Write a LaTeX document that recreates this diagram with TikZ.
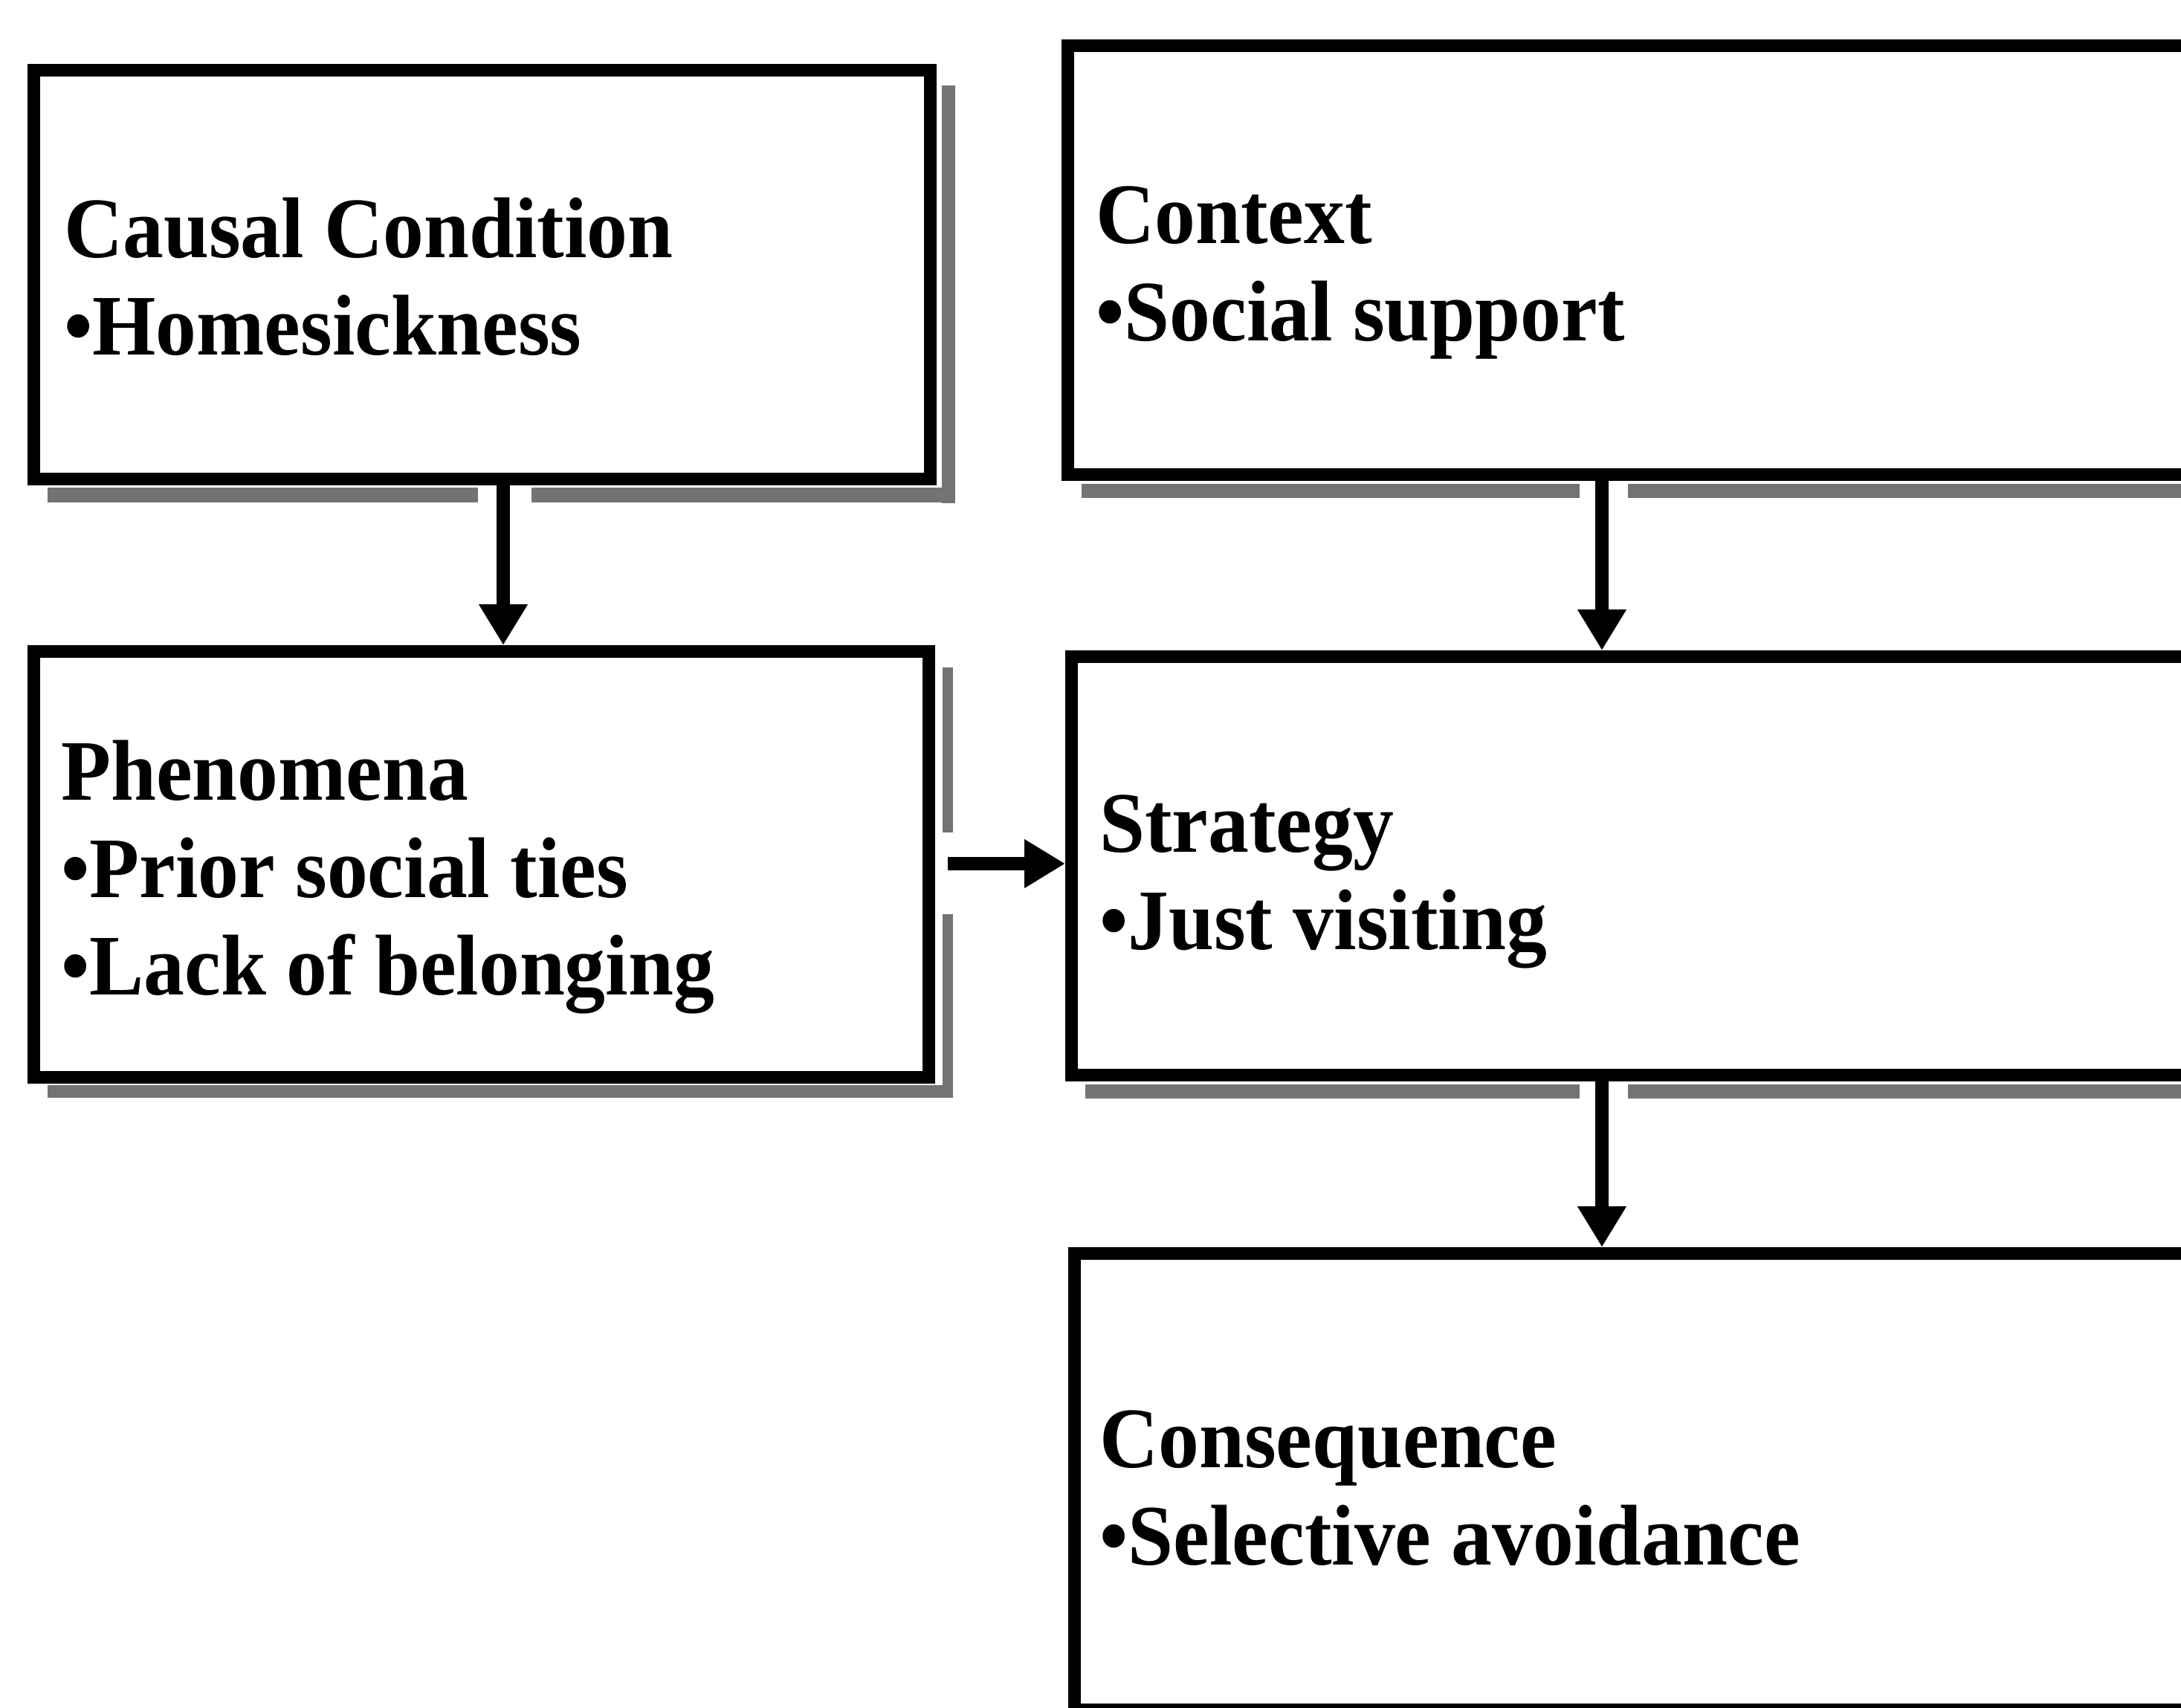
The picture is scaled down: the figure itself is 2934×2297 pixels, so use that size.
\documentclass[tikz,border=0pt]{standalone}
\usepackage{fontspec}
\setmainfont{Liberation Serif}[FakeStretch=0.945]
\usetikzlibrary{arrows.meta,calc}

\tikzset{
  box/.style={draw=black, line width=17pt, rectangle, inner sep=0pt, fill=none},
  label/.style={anchor=base west, inner sep=0pt,
    font=\fontsize{116}{131}\selectfont\bfseries},
  flow/.style={line width=18pt, -{Triangle[width=62pt,length=55pt]}},
  shade/.style={fill=black!55}
}

\begin{document}
\begin{tikzpicture}[x=1pt,y=-1pt]
\useasboundingbox (0,0) rectangle (2934,2297);
\clip (0,0) rectangle (2934,2297);

% drop shadows behind the boxes
\fill[shade] (1267,115) rectangle (1285,677);
\fill[shade] (64,656) rectangle (643,676);
\fill[shade] (715,656) rectangle (1285,676);
\fill[shade] (1455,651) rectangle (2125,670);
\fill[shade] (2190,651) rectangle (2934,670);
\fill[shade] (1268,898) rectangle (1282,1120);
\fill[shade] (1268,1230) rectangle (1282,1477);
\fill[shade] (64,1460) rectangle (1282,1477);
\fill[shade] (1460,1459) rectangle (2125,1478);
\fill[shade] (2190,1459) rectangle (2934,1478);

% boxes
\node[box, minimum width=1206pt, minimum height=550pt] (cause) at (648.5,369.5) {};
\node[box, minimum width=1523.5pt, minimum height=577pt] (context) at (2198.25,350) {};
\node[box, minimum width=1204pt, minimum height=573pt] (phen) at (647.5,1163) {};
\node[box, minimum width=1518.5pt, minimum height=563pt] (strat) at (2200.75,1165) {};
\node[box, minimum width=1514.5pt, minimum height=614pt] (cons) at (2202.75,1993.5) {};

% texts
\node[label] (cause1) at (86,346) {Causal Condition};
\node[label] (cause2) at (86,477) {•Homesickness};
\node[label] (ctx1) at (1474,327) {Context};
\node[label] (ctx2) at (1474,458) {•Social support};
\node[label] (phen1) at (82,1076) {Phenomena};
\node[label] (phen2) at (82,1207) {•Prior social ties};
\node[label] (phen3) at (82,1338) {•Lack of belonging};
\node[label] (strat1) at (1479,1146) {Strategy};
\node[label] (strat2) at (1479,1277) {•Just visiting};
\node[label] (cons1) at (1479,1974) {Consequence};
\node[label] (cons2) at (1479,2105) {•Selective avoidance};

% connectors
\coordinate (xl) at (677,0);
\coordinate (xr) at (2155,0);
\coordinate (ym) at (0,1162);
\coordinate (pstart) at ($(phen.east |- ym)+(17,0)$);
\draw[flow] (xl |- cause.south) -- (xl |- phen.north);
\draw[flow] (xr |- context.south) -- (xr |- strat.north);
\draw[flow] (pstart) -- (strat.west |- ym);
\draw[flow] (xr |- strat.south) -- (xr |- cons.north);
\end{tikzpicture}
\end{document}
